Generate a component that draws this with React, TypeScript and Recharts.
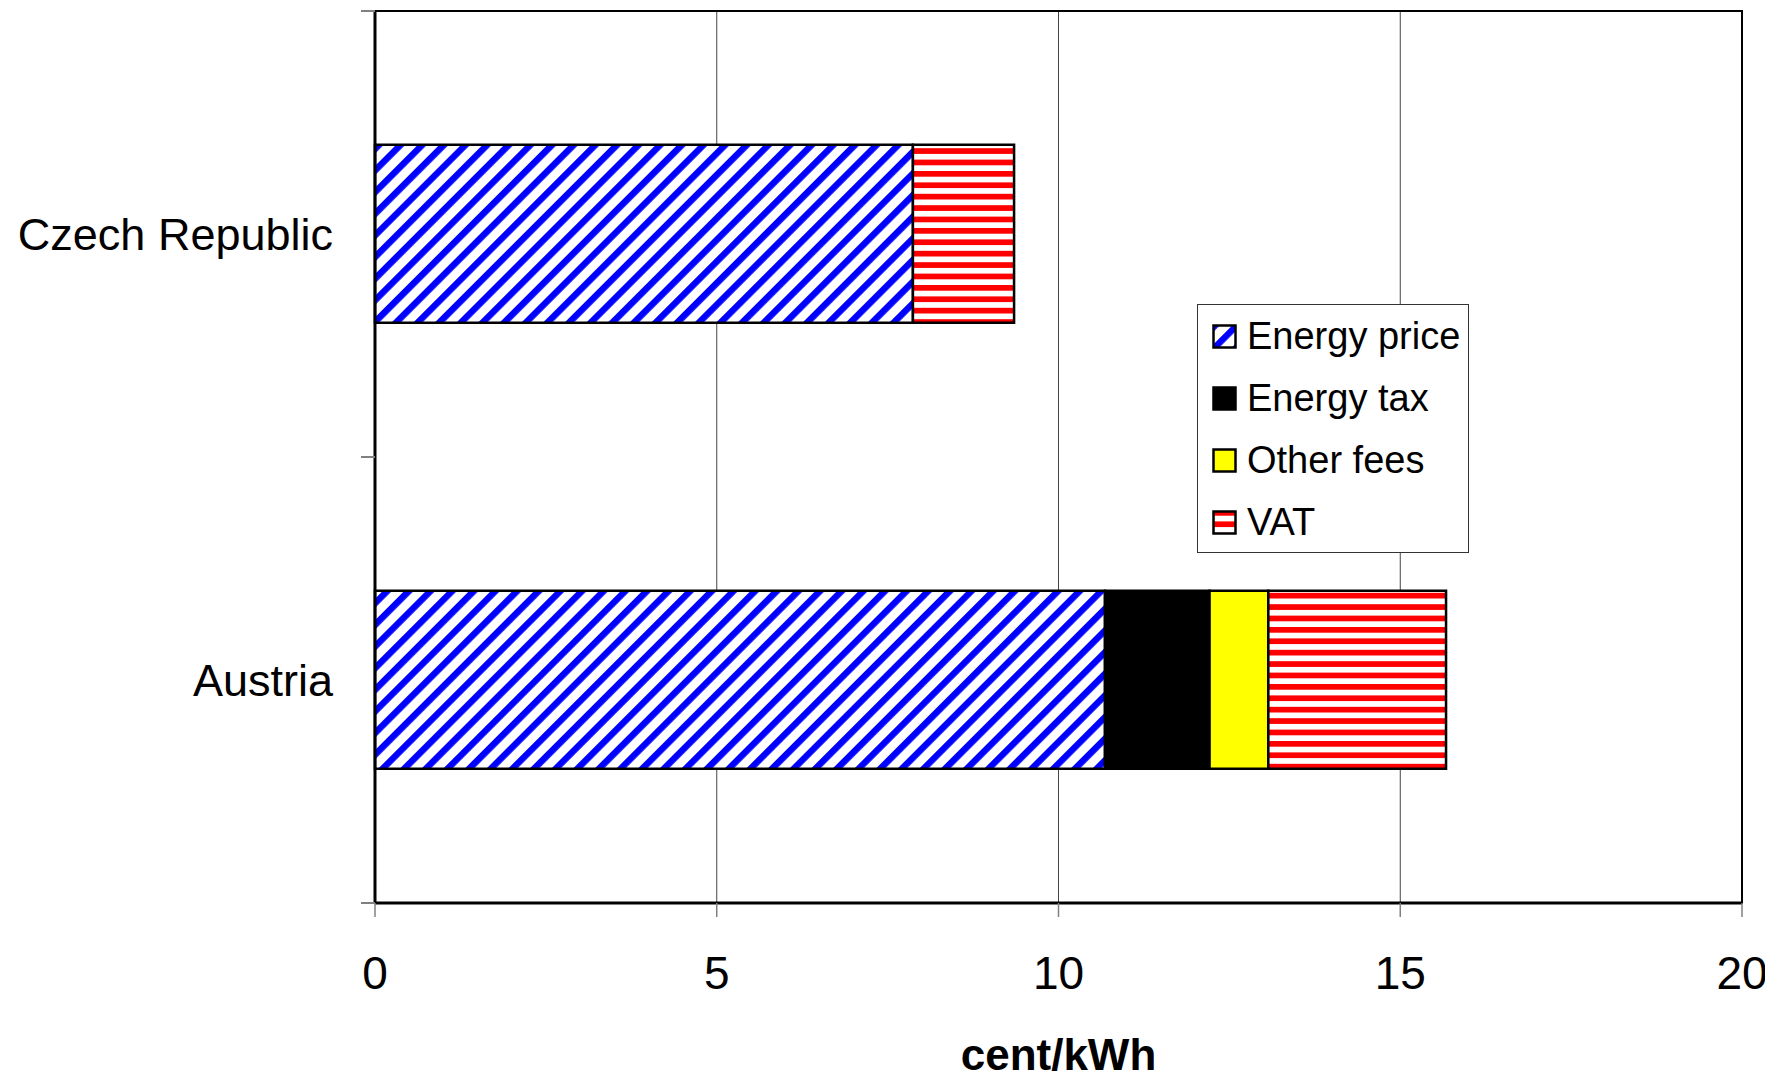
import React from "react";
import { Bar, BarChart, CartesianGrid, Legend, ReferenceArea, XAxis, YAxis } from "recharts";

const categories = ["Czech Republic", "Austria"];
const energyPrice = [7.87, 10.68];
const energyTax = [0, 1.53];
const otherFees = [0, 0.86];
const vat = [1.48, 2.6];
const xTicks = [0, 5, 10, 15, 20];

// band edges and band centres on a 0..1 scale, for the left axis
const n = categories.length;
const edgeTicks = Array.from({ length: 2 * n + 1 }, (_, i) => i / (2 * n));

const series = [
  { key: "energyPrice", name: "Energy price", fill: "url(#hatchBlue)" },
  { key: "energyTax", name: "Energy tax", fill: "#000000" },
  { key: "otherFees", name: "Other fees", fill: "#ffff00" },
  { key: "vat", name: "VAT", fill: "url(#stripeRed)" },
];

const data = categories.map((country, i) => ({
  country,
  energyPrice: energyPrice[i],
  energyTax: energyTax[i],
  otherFees: otherFees[i],
  vat: vat[i],
}));

const font = "'Liberation Sans', Arial, sans-serif";

function EdgeTick(props: any) {
  const { x, y, payload } = props;
  const k = Math.round(payload.value * 2 * n);
  if (k % 2 === 0) {
    return <line x1={x - 14} y1={y} x2={x} y2={y} stroke="#808080" strokeWidth={2} />;
  }
  return (
    <text x={x - 42} y={y} dy="0.355em" textAnchor="end" fontSize={45} fontFamily={font} fill="#000">
      {categories[(k - 1) / 2]}
    </text>
  );
}

function LegendBox() {
  return (
    <div
      style={{
        width: 272,
        height: 249,
        boxSizing: "border-box",
        border: "1px solid #333",
        background: "#fff",
        paddingTop: 0,
        paddingLeft: 14,
        fontFamily: font,
        fontSize: 38,
      }}
    >
      {series.map((s) => (
        <div key={s.key} style={{ height: 62, display: "flex", alignItems: "center" }}>
          <svg width={25} height={25} style={{ marginRight: 10 }}>
            <rect x={1.5} y={1.5} width={22} height={22} fill={s.fill} stroke="#000" strokeWidth={2.5} />
          </svg>
          <span style={{ color: "#000", lineHeight: "62px" }}>{s.name}</span>
        </div>
      ))}
    </div>
  );
}

export default function App() {
  return (
    <div style={{ position: "absolute", left: 0, top: 0, background: "#fff" }}>
      <BarChart
        width={1765}
        height={1080}
        data={data}
        layout="vertical"
        barCategoryGap="30%"
        margin={{ top: 11, right: 23, left: 0, bottom: 0 }}
      >
        <defs>
          <pattern id="hatchBlue" patternUnits="userSpaceOnUse" width={15.3} height={15.3} patternTransform="rotate(45)">
            <rect x={0} y={0} width={15.3} height={15.3} fill="#fff" />
            <rect x={0} y={0} width={6.5} height={15.3} fill="#0000ff" />
          </pattern>
          <pattern id="stripeRed" patternUnits="userSpaceOnUse" width={11.4} height={11.4}>
            <rect x={0} y={0} width={11.4} height={11.4} fill="#fff" />
            <rect x={0} y={0} width={11.4} height={5.7} fill="#ff0000" />
          </pattern>
        </defs>
        <CartesianGrid horizontal={false} stroke="#444" strokeWidth={1} />
        <XAxis
          type="number"
          domain={[0, 20]}
          ticks={xTicks}
          interval={0}
          height={177}
          tickSize={14}
          tickMargin={39}
          tickLine={{ stroke: "#808080", strokeWidth: 1.5 }}
          axisLine={{ stroke: "#000", strokeWidth: 3 }}
          tick={{ fontSize: 46, fontFamily: font, fill: "#000" }}
          label={{
            value: "cent/kWh",
            position: "insideBottom",
            offset: 10,
            style: { fontSize: 44, fontWeight: "bold", fontFamily: font, fill: "#000" },
          }}
        />
        <YAxis yAxisId="cat" type="category" dataKey="country" hide width={0} />
        <YAxis
          yAxisId="edge"
          type="number"
          domain={[0, 1]}
          allowDataOverflow
          ticks={edgeTicks}
          interval={0}
          width={375}
          tickSize={0}
          tickMargin={0}
          tickLine={false}
          axisLine={{ stroke: "#000", strokeWidth: 3 }}
          tick={<EdgeTick />}
        />
        <ReferenceArea yAxisId="cat" x1={0} x2={20} fill="none" stroke="#000" strokeWidth={2} ifOverflow="visible" />
        {series.map((s) => (
          <Bar
            key={s.key}
            yAxisId="cat"
            dataKey={s.key}
            name={s.name}
            stackId="a"
            fill={s.fill}
            stroke="#000"
            strokeWidth={2.5}
            isAnimationActive={false}
          />
        ))}
        <Legend
          layout="vertical"
          align="center"
          verticalAlign="middle"
          wrapperStyle={{ left: 1197, top: 304, width: 272, height: 249 }}
          content={() => <LegendBox />}
        />
      </BarChart>
    </div>
  );
}
